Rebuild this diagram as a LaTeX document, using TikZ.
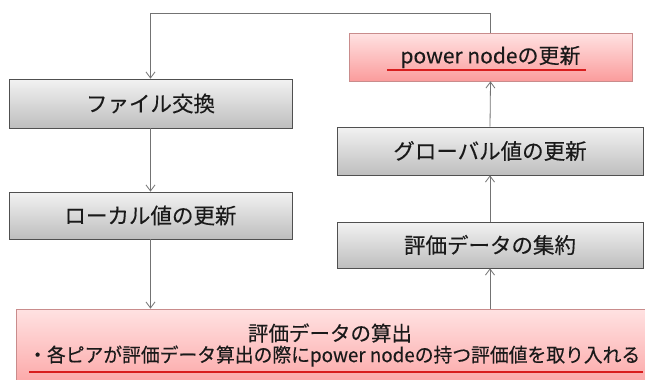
\documentclass[tikz,border=0pt]{standalone}
\usepackage{fontspec}
\setmainfont{Noto Sans CJK JP}[FakeBold=0.25]
\usetikzlibrary{arrows.meta,shadows}
\definecolor{boxline}{HTML}{505050}
\definecolor{graytop}{HTML}{F2F2F2}
\definecolor{graybot}{HTML}{BEBEBE}
\definecolor{pinktop}{HTML}{FFE2E2}
\definecolor{pinkbot}{HTML}{FB9C9C}
\definecolor{pinkline}{HTML}{C98C8C}
\definecolor{arrowgray}{HTML}{737373}
\definecolor{ulred}{HTML}{D81E1E}
\definecolor{txt}{HTML}{1A1A1A}
\tikzset{
  graybox/.style={rectangle, draw=boxline, line width=0.8pt, top color=graytop, bottom color=graybot,
    drop shadow={shadow xshift=1.2pt, shadow yshift=-1.2pt, opacity=0.35}, text=txt,
    font=\fontsize{21.5}{25}\selectfont, inner sep=0pt},
  pinkbox/.style={rectangle, draw=pinkline, line width=0.8pt, top color=pinktop, bottom color=pinkbot,
    drop shadow={shadow xshift=1.2pt, shadow yshift=-1.2pt, opacity=0.3}, text=txt,
    font=\fontsize{21.5}{25}\selectfont, inner sep=0pt},
  conn/.style={draw=arrowgray, line width=0.8pt, -{Straight Barb[length=6pt,width=9pt]}},
  uline/.style={draw=ulred, line width=1.4pt},
  lbl/.style={text=txt, inner sep=0pt},
}
\begin{document}
\begin{tikzpicture}[x=1pt,y=-1pt]
\useasboundingbox (0,0) rectangle (645,380);
\fill[white] (0,0) rectangle (645,380);
% boxes
\node[graybox, minimum width=283pt, minimum height=49pt] (fx) at (150.5,103.5) {ファイル交換};
\node[graybox, minimum width=283pt, minimum height=47pt] (lc) at (150.5,215.5) {ローカル値の更新};
\node[pinkbox, minimum width=283pt, minimum height=48pt] (pn) at (490.5,57) {};
\node[graybox, minimum width=306pt, minimum height=48pt] (gl) at (490,151) {グローバル値の更新};
\node[graybox, minimum width=306pt, minimum height=46pt] (ag) at (490,245) {評価データの集約};
\node[pinkbox, minimum width=640pt, minimum height=90pt] (calc) at (336,354) {};
% texts
\node[lbl, font=\fontsize{21}{25}\selectfont] (pnt) at (490.5,57) {power nodeの更新};
\draw[uline] (387,70) -- (586,70);
\node[lbl, font=\fontsize{20.5}{24}\selectfont] (c1) at (330,333) {評価データの算出};
\node[lbl, font=\fontsize{19.5}{23}\selectfont, anchor=west] (c2) at (28,356) {\resizebox{612pt}{\height}{・各ピアが評価データ算出の際にpower nodeの持つ評価値を取り入れる}};
\draw[uline] (29,372) -- (643,372);
% connectors
\coordinate (topy) at (0,13);
\draw[conn] (pn.north) -- (pn.north |- topy) -| (fx.north);
\draw[conn] (fx.south) -- (lc.north);
\draw[conn] (lc.south) -- (lc.south |- calc.north);
\draw[conn] (ag.south |- calc.north) -- (ag.south);
\draw[conn] (ag.north) -- (gl.south);
\draw[conn] (gl.north) -- (pn.south);
\end{tikzpicture}
\end{document}
